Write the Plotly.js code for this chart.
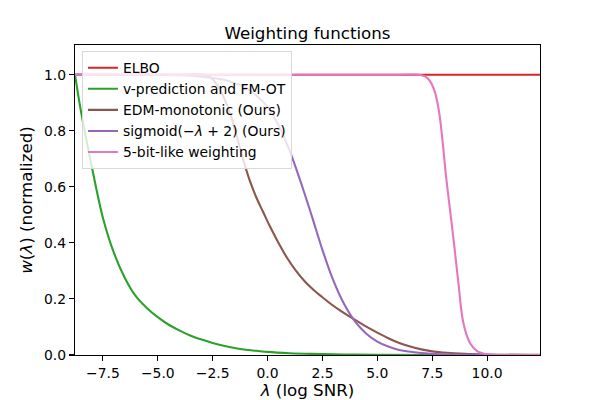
<!DOCTYPE html>
<html>
<head>
<meta charset="utf-8">
<script src="https://cdn.plot.ly/plotly-3.0.1.min.js"></script>
<style>
  html, body { margin: 0; padding: 0; background: #fff; }
  #chart { width: 600px; height: 400px; }
</style>
</head>
<body>
<div id="chart"></div>
<script>
// values
var lamElbo = [-8.77, 12.41];
var wElbo = [1.0, 1.0];

var lamV = [-8.77, -8.5, -8.0, -7.5, -7.0, -6.5, -6.0, -5.5, -5.0, -4.5, -4.0, -3.5, -3.0, -2.5, -2.0, -1.5, -1.0, -0.5, 0.0, 1.0, 2.0, 3.5, 5.0, 8.0, 12.41];
var wV = [1.0, 0.87, 0.67, 0.49, 0.365, 0.275, 0.21, 0.168, 0.135, 0.108, 0.087, 0.069, 0.055, 0.043, 0.033, 0.025, 0.019, 0.015, 0.011, 0.0065, 0.004, 0.002, 0.001, 0.0002, 0.0];

var lamEdm = [-8.77, -6.0, -4.0, -2.9, -2.6, -2.3, -2.0, -1.7, -1.4, -1.1, -0.8, -0.5, -0.2, 0.1, 0.5, 0.9, 1.3, 1.7, 2.1, 2.5, 2.9, 3.3, 3.8, 4.4, 5.0, 5.5, 6.0, 6.5, 7.0, 7.5, 8.0, 9.0, 10.0, 12.41];
var wEdm = [1.0, 1.0, 1.0, 1.0, 0.99, 0.965, 0.92, 0.86, 0.78, 0.695, 0.62, 0.56, 0.51, 0.46, 0.40, 0.345, 0.30, 0.262, 0.232, 0.206, 0.181, 0.159, 0.134, 0.106, 0.08, 0.06, 0.043, 0.03, 0.02, 0.013, 0.009, 0.004, 0.002, 0.0005];

var lamSig = [-8.77, -5.0, -4.0, -3.0, -2.0, -1.5, -1.0, -0.5, 0.0, 0.5, 1.0, 1.5, 2.0, 2.5, 3.0, 3.5, 4.0, 4.5, 5.0, 5.5, 6.0, 7.0, 8.0, 10.0, 12.41];
var wSig = [1.0, 0.999, 0.998, 0.993, 0.982, 0.97, 0.955, 0.925, 0.885, 0.82, 0.73, 0.62, 0.5, 0.375, 0.265, 0.18, 0.118, 0.076, 0.048, 0.03, 0.018, 0.007, 0.0025, 0.0003, 0.0];

var lamBit = [-8.77, -4.0, 0.0, 4.0, 6.0, 6.9, 7.17, 7.4, 7.63, 7.82, 7.98, 8.13, 8.31, 8.49, 8.69, 8.92, 9.22, 9.53, 9.75, 10.0, 11.0, 12.41];
var wBit = [1.0, 1.0, 1.0, 1.0, 1.0, 1.0, 0.994, 0.977, 0.936, 0.864, 0.757, 0.638, 0.519, 0.4, 0.26, 0.114, 0.043, 0.015, 0.007, 0.002, 0.0, 0.0];

var names = ['ELBO', 'v-prediction and FM-OT', 'EDM-monotonic (Ours)', 'sigmoid(−<i>λ</i> + 2) (Ours)', '5-bit-like weighting'];
var colors = ['#d62728', '#2ca02c', '#8c564b', '#9467bd', '#e377c2'];
var xs = [lamElbo, lamV, lamEdm, lamSig, lamBit];
var ys = [wElbo, wV, wEdm, wSig, wBit];

var data = [];
for (var i = 0; i < names.length; i++) {
    data.push({
        x: xs[i],
        y: ys[i],
        name: names[i],
        mode: 'lines',
        type: 'scatter',
        line: {color: colors[i], width: 2.1, shape: i === 0 ? 'linear' : 'spline', smoothing: 1}
    });
}

var font = 'DejaVu Sans, sans-serif';
var axisCommon = {
    showline: true, mirror: true, linecolor: '#000', linewidth: 1.1,
    ticks: 'outside', ticklen: 5, tickwidth: 1.1, tickcolor: '#000',
    tickfont: {family: font, size: 13.9, color: '#000'},
    showgrid: false, zeroline: false, tickformat: '.1f', automargin: false
};

var layout = {
    width: 600, height: 400,
    margin: {l: 75, r: 60, t: 45, b: 45},
    paper_bgcolor: '#fff', plot_bgcolor: '#fff',
    font: {family: font, color: '#000'},
    title: {text: 'Weighting functions', font: {family: font, size: 16.7, color: '#000'},
            x: 0.5125, xanchor: 'center', y: 0.916, yanchor: 'middle'},
    xaxis: Object.assign({}, axisCommon, {
        range: [-8.77, 12.41],
        tickvals: [-7.5, -5, -2.5, 0, 2.5, 5, 7.5, 10],
        title: {text: '<i>λ</i> (log SNR)', font: {family: font, size: 16.7, color: '#000'}}
    }),
    yaxis: Object.assign({}, axisCommon, {
        range: [0, 1.106],
        tickvals: [0, 0.2, 0.4, 0.6, 0.8, 1.0],
        title: {text: '<i>w</i>(<i>λ</i>) (normalized)', font: {family: font, size: 16.7, color: '#000'}}
    }),
    showlegend: true,
    legend: {
        x: 0.015, y: 0.98, xanchor: 'left', yanchor: 'top',
        bgcolor: 'rgba(255,255,255,0.8)', bordercolor: '#d9d9d9', borderwidth: 1,
        font: {family: font, size: 13.9, color: '#000'},
        itemwidth: 30
    }
};

Plotly.newPlot('chart', data, layout, {staticPlot: true});
</script>
</body>
</html>
